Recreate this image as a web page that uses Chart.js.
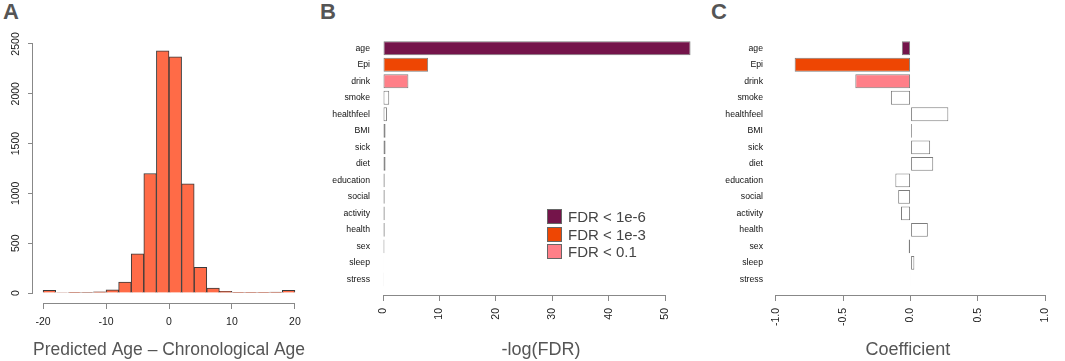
<!DOCTYPE html>
<html>
<head>
    <title>Age predictors</title>
    <style>
        body {
            margin: 0;
            padding: 0;
            background-color: #ffffff;
            font-family: "Liberation Sans", Arial, sans-serif;
            width: 1065px;
            height: 361px;
            position: relative;
            overflow: hidden;
        }
        canvas {
            position: absolute;
            top: 0;
        }
        .panel-letter {
            position: absolute;
            top: 1px;
            font-size: 22px;
            font-weight: bold;
            color: #555555;
            line-height: 22px;
        }
        .legend {
            position: absolute;
            left: 547px;
            top: 208px;
            font-size: 15px;
            color: #444444;
        }
        .legend div {
            display: flex;
            align-items: center;
            height: 17.5px;
        }
        .legend span.box {
            display: inline-block;
            width: 13px;
            height: 13px;
            border: 1px solid #666666;
            margin-right: 6px;
        }
    </style>
    <script src="https://cdn.jsdelivr.net/npm/chart.js@4.4.1/dist/chart.umd.min.js"></script>
</head>
<body>
    <div class="panel-letter" style="left: 3px;">A</div>
    <div class="panel-letter" style="left: 320px;">B</div>
    <div class="panel-letter" style="left: 711px;">C</div>

    <canvas id="chartA" width="320" height="361" style="left: 0px;"></canvas>
    <canvas id="chartB" width="380" height="361" style="left: 320px;"></canvas>
    <canvas id="chartC" width="365" height="361" style="left: 700px;"></canvas>

    <div class="legend" id="legendB"></div>

    <script>
        // Panel A - histogram of age difference
        var binStarts = [-20, -18, -16, -14, -12, -10, -8, -6, -4, -2, 0, 2, 4, 6, 8, 10, 12, 14, 16, 18];
        var binCounts = [27, 5, 4, 6, 13, 33, 110, 394, 1200, 2430, 2370, 1096, 257, 50, 17, 7, 3, 3, 9, 27];
        var histTicksX = [-20, -10, 0, 10, 20];
        var histTicksY = [0, 500, 1000, 1500, 2000, 2500];

        // Panels B and C - covariates
        var covariates = ["age", "Epi", "drink", "smoke", "healthfeel", "BMI", "sick", "diet",
                          "education", "social", "activity", "health", "sex", "sleep", "stress"];
        var negLogFDR = [54.5, 8.0, 4.5, 1.1, 0.7, 0.45, 0.45, 0.45, 0.3, 0.3, 0.3, 0.3, 0.25, 0.1, 0.05];
        var coefficients = [-0.065, -0.86, -0.41, -0.146, 0.28, 0.01, 0.145, 0.168,
                            -0.113, -0.092, -0.071, 0.128, -0.014, 0.028, -0.003];
        var fdrClass = ["1e-6", "1e-3", "0.1", "", "", "", "", "", "", "", "", "", "", "", ""];
        var ticksB = [0, 10, 20, 30, 40, 50];
        var ticksC = [-1.0, -0.5, 0.0, 0.5, 1.0];

        var legendLabels = ["FDR < 1e-6", "FDR < 1e-3", "FDR < 0.1"];
        var legendKeys = ["1e-6", "1e-3", "0.1"];
        var classColors = { "1e-6": "#74144a", "1e-3": "#ee4603", "0.1": "#ff7f88", "": "#ffffff" };

        var FONT = "'Liberation Sans', Arial, sans-serif";
        var AXIS_GREY = "#888888";

        // R style axis lines: only from first to last tick
        var rAxisLines = {
            id: "rAxisLines",
            afterDraw: function(chart, args, opts) {
                var ctx = chart.ctx;
                var area = chart.chartArea;
                ctx.save();
                ctx.strokeStyle = AXIS_GREY;
                ctx.lineWidth = 1;
                ctx.beginPath();
                var xs = chart.scales.x;
                var xt = xs.ticks;
                ctx.moveTo(xs.getPixelForValue(xt[0].value), Math.round(area.bottom) + 0.5);
                ctx.lineTo(xs.getPixelForValue(xt[xt.length - 1].value), Math.round(area.bottom) + 0.5);
                if (opts.yLine) {
                    var ys = chart.scales.y;
                    var yt = ys.ticks;
                    ctx.moveTo(Math.round(area.left) - 0.5, ys.getPixelForValue(yt[0].value));
                    ctx.lineTo(Math.round(area.left) - 0.5, ys.getPixelForValue(yt[yt.length - 1].value));
                }
                ctx.stroke();
                ctx.restore();
            }
        };

        function xAxisTitle(text) {
            return {
                display: true,
                text: text,
                color: "#555555",
                font: { family: FONT, size: 18, lineHeight: 1.2 },
                padding: { top: 0, bottom: 0 }
            };
        }

        // ---------- A ----------
        var histData = [];
        for (var i = 0; i < binStarts.length; i++) {
            histData.push({ x: binStarts[i] + 1, y: binCounts[i] });
        }

        new Chart(document.getElementById("chartA"), {
            type: "bar",
            data: {
                datasets: [{
                    data: histData,
                    backgroundColor: "#ff6b47",
                    borderColor: "#3a3a3a",
                    borderWidth: 1,
                    barPercentage: 1,
                    categoryPercentage: 1
                }]
            },
            options: {
                responsive: false,
                animation: false,
                layout: { padding: { left: 0, top: 34, right: 15, bottom: 0 } },
                plugins: { legend: { display: false }, tooltip: { enabled: false }, rAxisLines: { yLine: true } },
                scales: {
                    x: {
                        type: "linear",
                        offset: false,
                        min: -21.6,
                        max: 21.6,
                        afterBuildTicks: function(s) { s.ticks = histTicksX.map(function(v) { return { value: v }; }); },
                        afterFit: function(s) { s.height = 58; },
                        grid: { offset: false, drawOnChartArea: false, drawTicks: true, tickLength: 6, color: AXIS_GREY },
                        border: { display: false },
                        ticks: { color: "#222222", font: { family: FONT, size: 10.5 }, padding: 7, maxRotation: 0 },
                        title: xAxisTitle("Predicted Age \u2013 Chronological Age")
                    },
                    y: {
                        min: -100,
                        max: 2600,
                        afterBuildTicks: function(s) { s.ticks = histTicksY.map(function(v) { return { value: v }; }); },
                        afterFit: function(s) { s.width = 33; },
                        grid: { drawOnChartArea: false, drawTicks: true, tickLength: 5, color: AXIS_GREY },
                        border: { display: false },
                        ticks: {
                            color: "#222222",
                            font: { family: FONT, size: 10.5 },
                            padding: 0,
                            minRotation: 90,
                            maxRotation: 90,
                            crossAlign: "center",
                            callback: function(v) { return String(v); }
                        }
                    }
                }
            },
            plugins: [rAxisLines]
        });

        // ---------- B and C ----------
        function covariateChart(canvasId, values, ticks, xMin, xMax, yWidth, labelPad, title, fmt) {
            var pts = [];
            for (var i = 0; i < covariates.length; i++) {
                pts.push({ x: values[i], y: i });
            }
            return new Chart(document.getElementById(canvasId), {
                type: "bar",
                data: {
                    datasets: [{
                        data: pts,
                        backgroundColor: fdrClass.map(function(c) { return classColors[c]; }),
                        borderColor: "#7d7d7d",
                        borderWidth: 1,
                        borderSkipped: false,
                        barPercentage: 0.84,
                        categoryPercentage: 1
                    }]
                },
                options: {
                    indexAxis: "y",
                    responsive: false,
                    animation: false,
                    layout: { padding: { left: 0, top: 33, right: 1, bottom: 0 } },
                    plugins: { legend: { display: false }, tooltip: { enabled: false }, rAxisLines: { yLine: false } },
                    scales: {
                        x: {
                            type: "linear",
                            min: xMin,
                            max: xMax,
                            afterBuildTicks: function(s) { s.ticks = ticks.map(function(v) { return { value: v }; }); },
                            afterFit: function(s) { s.height = 66; },
                            grid: { drawOnChartArea: false, drawTicks: true, tickLength: 6, color: AXIS_GREY },
                            border: { display: false },
                            ticks: {
                                color: "#222222",
                                font: { family: FONT, size: 10.5 },
                                padding: 7,
                                minRotation: 90,
                                maxRotation: 90,
                                callback: fmt
                            },
                            title: xAxisTitle(title)
                        },
                        y: {
                            type: "linear",
                            offset: false,
                            reverse: true,
                            min: -0.927,
                            max: 14.95,
                            afterBuildTicks: function(s) { s.ticks = covariates.map(function(c, k) { return { value: k }; }); },
                            afterFit: function(s) { s.width = yWidth; },
                            grid: { display: false, drawTicks: false },
                            border: { display: false },
                            ticks: {
                                color: "#111111",
                                font: { family: FONT, size: 8.7 },
                                padding: labelPad,
                                callback: function(v) { return covariates[v]; }
                            }
                        }
                    }
                },
                plugins: [rAxisLines]
            });
        }

        covariateChart("chartB", negLogFDR, ticksB, 0, 56, 63, 13, "-log(FDR)",
            function(v) { return String(v); });
        covariateChart("chartC", coefficients, ticksC, -1.08, 1.04, 65, 2, "Coefficient",
            function(v) { return v.toFixed(1); });

        // legend for B
        var legendBox = document.getElementById("legendB");
        for (var j = 0; j < legendLabels.length; j++) {
            var row = document.createElement("div");
            row.innerHTML = '<span class="box" style="background:' + classColors[legendKeys[j]] + '"></span>' + legendLabels[j];
            legendBox.appendChild(row);
        }
    </script>
</body>
</html>
